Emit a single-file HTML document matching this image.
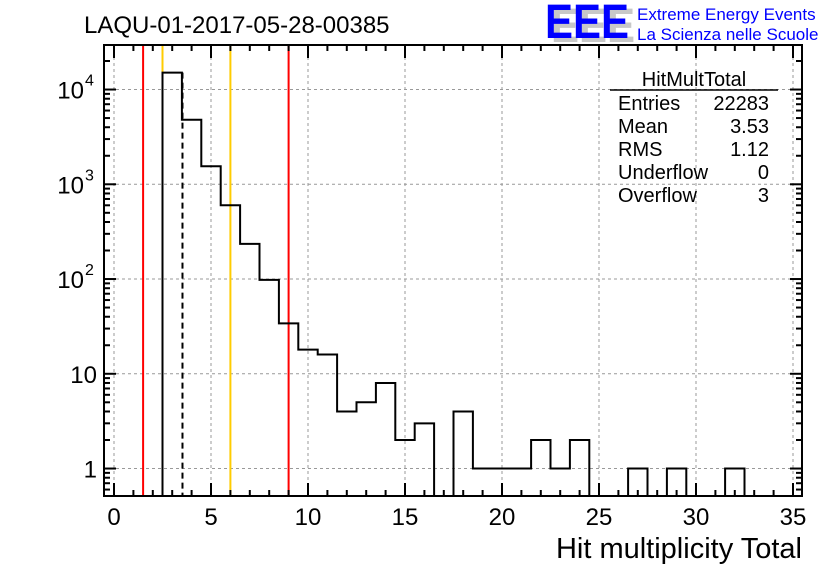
<!DOCTYPE html>
<html><head><meta charset="utf-8"><style>
html,body{margin:0;padding:0;background:#fff;}
svg{display:block;font-family:"Liberation Sans",sans-serif;}
</style></head><body>
<svg id="c" width="836" height="572" viewBox="0 0 836 572">
<rect width="836" height="572" fill="#fff"/>
<text x="84" y="33" font-size="24">LAQU-01-2017-05-28-00385</text>
<g>
<text x="551" y="42" font-size="48" font-weight="bold" fill="#c8c8c8" textLength="84" lengthAdjust="spacingAndGlyphs">EEE</text>
<text x="545" y="38" font-size="48" font-weight="bold" fill="#0000ff" textLength="84" lengthAdjust="spacingAndGlyphs">EEE</text>
<text x="637" y="20" font-size="17" fill="#0000ff">Extreme Energy Events</text>
<text x="637" y="40" font-size="17" fill="#0000ff">La Scienza nelle Scuole</text>
</g>
<g id="grid"></g>
<g id="marks"></g>
<g id="axes"></g>
<g font-size="20">
<text x="694" y="86" text-anchor="middle">HitMultTotal</text>
<line x1="610" y1="90" x2="778" y2="90" stroke="#000" stroke-width="1.5"/>
<text x="618" y="110">Entries</text><text x="769" y="110" text-anchor="end">22283</text>
<text x="618" y="133">Mean</text><text x="769" y="133" text-anchor="end">3.53</text>
<text x="618" y="156">RMS</text><text x="769" y="156" text-anchor="end">1.12</text>
<text x="618" y="179">Underflow</text><text x="769" y="179" text-anchor="end">0</text>
<text x="618" y="202">Overflow</text><text x="769" y="202" text-anchor="end">3</text>
</g>
<text x="802" y="558" font-size="29" text-anchor="end">Hit multiplicity Total</text>
</svg>
<script>
const binCenters=[0,1,2,3,4,5,6,7,8,9,10,11,12,13,14,15,16,17,18,19,20,21,22,23,24,25,26,27,28,29,30,31,32,33,34,35];
const counts=[0,0,0,15100,4800,1550,600,235,98,34,18,16,4,5,8,2,3,0,4,1,1,1,2,1,2,0,0,1,0,1,0,0,1,0,0,0];
const xTicks=[0,5,10,15,20,25,30,35];
const yDecades=[0,1,2,3,4];
const yLabels=["1","10","10","10","10"];
const yExps=["","","2","3","4"];
const redLines=[1.5,9];
const yellowLines=[2.5,6];
const meanLine=[3.53];

const NS="http://www.w3.org/2000/svg";
const L=104,R=802,T=45,B=496;
const x=v=>114+v*19.4;
const logMin=Math.log10(0.513),logMax=4.47;
const y=v=>{const lv=v>0?Math.log10(v):logMin;const c=Math.max(lv,logMin);return B-(c-logMin)/(logMax-logMin)*(B-T);};
function mk(tag,attrs,parent){const e=document.createElementNS(NS,tag);for(const k in attrs)e.setAttribute(k,attrs[k]);parent.appendChild(e);return e;}
const grid=document.getElementById('grid'),marks=document.getElementById('marks'),axes=document.getElementById('axes');
xTicks.forEach(t=>{const g=mk('line',{x1:x(t),x2:x(t),y1:T,y2:B,stroke:'#999','stroke-dasharray':'3,3','stroke-width':1},grid);

});
yDecades.forEach(d=>{const g=mk('line',{x1:L,x2:R,y1:y(Math.pow(10,d)),y2:y(Math.pow(10,d)),stroke:'#999','stroke-dasharray':'3,3','stroke-width':1},grid);

});
redLines.forEach(v=>{const l=mk('line',{x1:x(v),x2:x(v),y1:T,y2:B,stroke:'#ff0000','stroke-width':2},marks);

});
yellowLines.forEach(v=>{const l=mk('line',{x1:x(v),x2:x(v),y1:T,y2:B,stroke:'#ffcc00','stroke-width':2},marks);

});
meanLine.forEach(v=>{const l=mk('line',{x1:x(v),x2:x(v),y1:y(counts[3]),y2:B,stroke:'#000','stroke-width':2,'stroke-dasharray':'6,4'},marks);

});
// histogram
let d='M'+x(binCenters[0]-0.5)+','+B;
binCenters.forEach((c,i)=>{const yy=counts[i]>0?y(counts[i]):B;d+=' L'+x(c-0.5)+','+yy+' L'+x(c+0.5)+','+yy;});
d+=' L'+x(35.5)+','+B;
const h=mk('path',{d:d,fill:'none',stroke:'#000','stroke-width':2},marks);


// frame
const fr=mk('rect',{x:L,y:T,width:R-L,height:B-T,fill:'none',stroke:'#000','stroke-width':2},axes);


for(let t=0;t<=35;t++){const len=t%5===0?13:6;
mk('line',{x1:x(t),x2:x(t),y1:B,y2:B-len,stroke:'#000','stroke-width':2},axes);
mk('line',{x1:x(t),x2:x(t),y1:T,y2:T+len,stroke:'#000','stroke-width':2},axes);}
xTicks.forEach(t=>{const tx=mk('text',{x:x(t),y:525,'font-size':24,'text-anchor':'middle'},axes);tx.textContent=t;

});
for(let dd=-1;dd<=4;dd++){for(let m=1;m<=9;m++){const v=m*Math.pow(10,dd);const yy=y(v);if(yy<T||yy>B||(v<0.513))continue;const len=m===1?12:6;
mk('line',{x1:L,x2:L+len,y1:yy,y2:yy,stroke:'#000','stroke-width':2},axes);
mk('line',{x1:R,x2:R-len,y1:yy,y2:yy,stroke:'#000','stroke-width':2},axes);}}
yDecades.forEach((dd,i)=>{const yy=y(Math.pow(10,dd));const ex=yExps[i];
const tx=mk('text',{x:ex?84:97,y:yy+9,'font-size':24,'text-anchor':'end'},axes);tx.textContent=yLabels[i];


if(ex){const s=mk('text',{x:85,y:yy-4,'font-size':16},axes);s.textContent=ex;

}});
</script>
</body></html>
